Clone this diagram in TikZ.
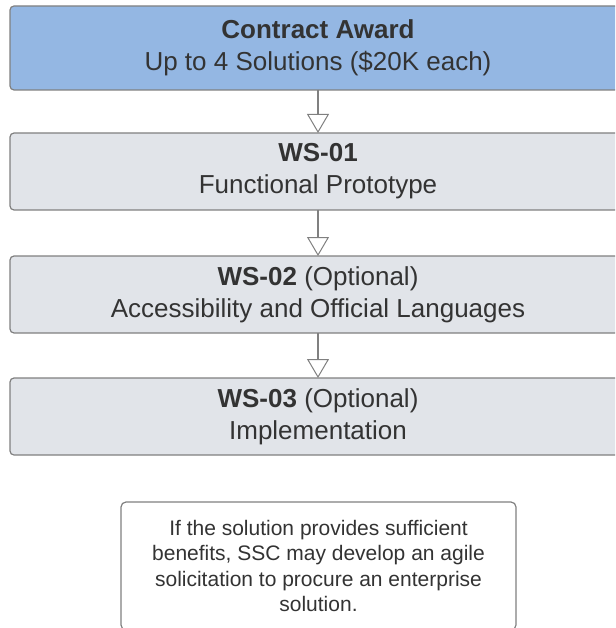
\documentclass[tikz,border=0pt]{standalone}
\usepackage{fontspec}
\setmainfont{Liberation Sans}
\usetikzlibrary{positioning, arrows.meta}

\definecolor{awardblue}{HTML}{94B7E3}
\definecolor{wsgray}{HTML}{E1E4E9}
\definecolor{edgegray}{HTML}{808080}
\definecolor{textgray}{HTML}{333333}

\tikzset{
	stage/.style={draw=edgegray, fill=wsgray, line width=1.2pt, rounded corners=4pt,
		minimum width=616pt, minimum height=77pt, inner sep=0pt, outer sep=0pt, align=center,
		text=textgray, font=\fontsize{26}{32}\selectfont},
	notebox/.style={draw=edgegray, fill=white, line width=1.2pt, rounded corners=5pt,
		minimum width=395pt, minimum height=128pt, inner sep=0pt, align=center,
		text=textgray, font=\fontsize{21}{25.5}\selectfont},
	flow/.style={draw=edgegray, line width=1.2pt,
		-{Triangle[width=22pt, length=19pt, fill=white, line width=1pt]}}
}

\begin{document}
\begin{tikzpicture}[x=1pt, y=-1pt]
	\useasboundingbox (0,0) rectangle (615,628);
	\clip (0,0) rectangle (615,628);

	\node[stage, fill=awardblue, minimum height=84pt] (award) at (318, 48) {\textbf{Contract Award}\\Up to 4 Solutions (\$20K each)};
	\node[stage, below=43pt of award] (ws1) {\textbf{WS-01}\\Functional Prototype};
	\node[stage, below=46pt of ws1] (ws2) {\textbf{WS-02} (Optional)\\Accessibility and Official Languages};
	\node[stage, below=45pt of ws2] (ws3) {\textbf{WS-03} (Optional)\\Implementation};

	\node[notebox] (note) at (318.5, 566) {If the solution provides sufficient\\benefits, SSC may develop an agile\\solicitation to procure an enterprise\\solution.};

	\path [flow] (award) edge (ws1);
	\path [flow] (ws1) edge (ws2);
	\path [flow] (ws2) edge (ws3);
\end{tikzpicture}
\end{document}
